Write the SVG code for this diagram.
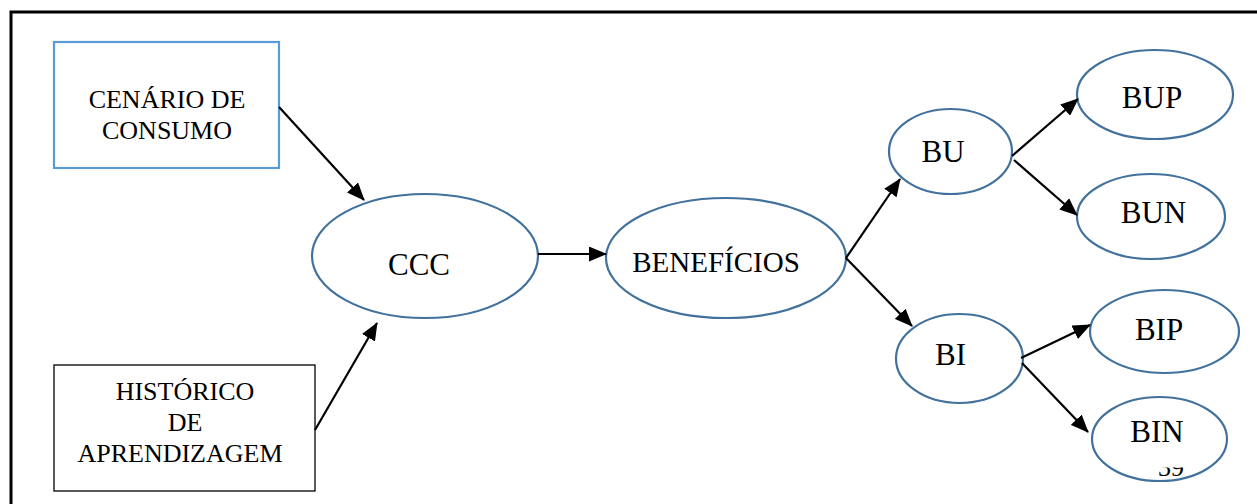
<svg xmlns="http://www.w3.org/2000/svg" width="1257" height="504" viewBox="0 0 1257 504">
  <style>
    .frame { fill: none; stroke: #000; stroke-width: 3; }
    .oval { fill: #fff; stroke: #41719C; stroke-width: 2.2; }
    .box-blue { fill: #fff; stroke: #5B9BD5; stroke-width: 2.2; }
    .box-black { fill: #fff; stroke: #000; stroke-width: 1.3; }
    .lbl { font-family: "Liberation Serif", "Times New Roman", serif; fill: #000; text-anchor: middle; }
    .edge { fill: none; stroke: #000; stroke-width: 2.2; marker-end: url(#arrow); }
  </style>
  <defs>
    <marker id="arrow" viewBox="0 0 18 15" refX="17" refY="7.5" markerWidth="18" markerHeight="15" markerUnits="userSpaceOnUse" orient="auto">
      <path d="M0,0 L18,7.5 L0,15 Z" fill="#000"/>
    </marker>
    <clipPath id="pagenum-clip">
      <rect x="1150" y="467.5" width="50" height="14"/>
    </clipPath>
  </defs>

  <rect width="1257" height="504" fill="#fff"/>

  <!-- page frame (top and left edges) -->
  <path class="frame" d="M9.5,12 H1257 M11,12 V504"/>

  <g id="cenario">
    <rect class="box-blue" x="54" y="42" width="225" height="126"/>
    <text class="lbl" font-size="26" x="167" y="108">CENÁRIO DE</text>
    <text class="lbl" font-size="26" x="167" y="139">CONSUMO</text>
  </g>

  <g id="historico">
    <rect class="box-black" x="54" y="365" width="261" height="126"/>
    <text class="lbl" font-size="26" x="185" y="400">HISTÓRICO</text>
    <text class="lbl" font-size="26" x="185" y="431">DE</text>
    <text class="lbl" font-size="26" x="180" y="462">APRENDIZAGEM</text>
  </g>

  <g id="ccc">
    <ellipse class="oval" cx="425" cy="256" rx="113" ry="62"/>
    <text class="lbl" font-size="31" x="419" y="275">CCC</text>
  </g>

  <g id="beneficios">
    <ellipse class="oval" cx="726" cy="258" rx="120" ry="60"/>
    <text class="lbl" font-size="29" x="716" y="272">BENEFÍCIOS</text>
  </g>

  <g id="bu">
    <ellipse class="oval" cx="950.5" cy="151.5" rx="61.5" ry="42.5"/>
    <text class="lbl" font-size="31" x="943" y="162">BU</text>
  </g>

  <g id="bup">
    <ellipse class="oval" cx="1155" cy="94.5" rx="78" ry="44.5"/>
    <text class="lbl" font-size="31" x="1152" y="108">BUP</text>
  </g>

  <g id="bun">
    <ellipse class="oval" cx="1151" cy="216.5" rx="74" ry="42.5"/>
    <text class="lbl" font-size="31" x="1153.5" y="223">BUN</text>
  </g>

  <g id="bi">
    <ellipse class="oval" cx="959.5" cy="358.5" rx="63.5" ry="44.5"/>
    <text class="lbl" font-size="31" x="950.5" y="365">BI</text>
  </g>

  <g id="bip">
    <ellipse class="oval" cx="1164.5" cy="331.5" rx="74.5" ry="41.5"/>
    <text class="lbl" font-size="31" x="1159" y="340">BIP</text>
  </g>

  <g id="bin">
    <ellipse class="oval" cx="1159.5" cy="439" rx="67.5" ry="42"/>
    <text class="lbl" font-size="31" x="1157" y="442">BIN</text>
  </g>

  <!-- page number, cut off along its top -->
  <text class="lbl" font-size="26" x="1171" y="476" clip-path="url(#pagenum-clip)">39</text>

  <g id="connectors">
    <line class="edge" x1="279" y1="107" x2="364" y2="200"/>
    <line class="edge" x1="315" y1="430" x2="377" y2="323"/>
    <line class="edge" x1="538" y1="254" x2="606" y2="254"/>
    <line class="edge" x1="846" y1="258" x2="900" y2="179"/>
    <line class="edge" x1="846" y1="258" x2="912" y2="326"/>
    <line class="edge" x1="1012" y1="156" x2="1078" y2="99"/>
    <line class="edge" x1="1014" y1="160" x2="1077" y2="215"/>
    <line class="edge" x1="1021" y1="358" x2="1090" y2="325"/>
    <line class="edge" x1="1022" y1="363" x2="1088" y2="432"/>
  </g>
</svg>
